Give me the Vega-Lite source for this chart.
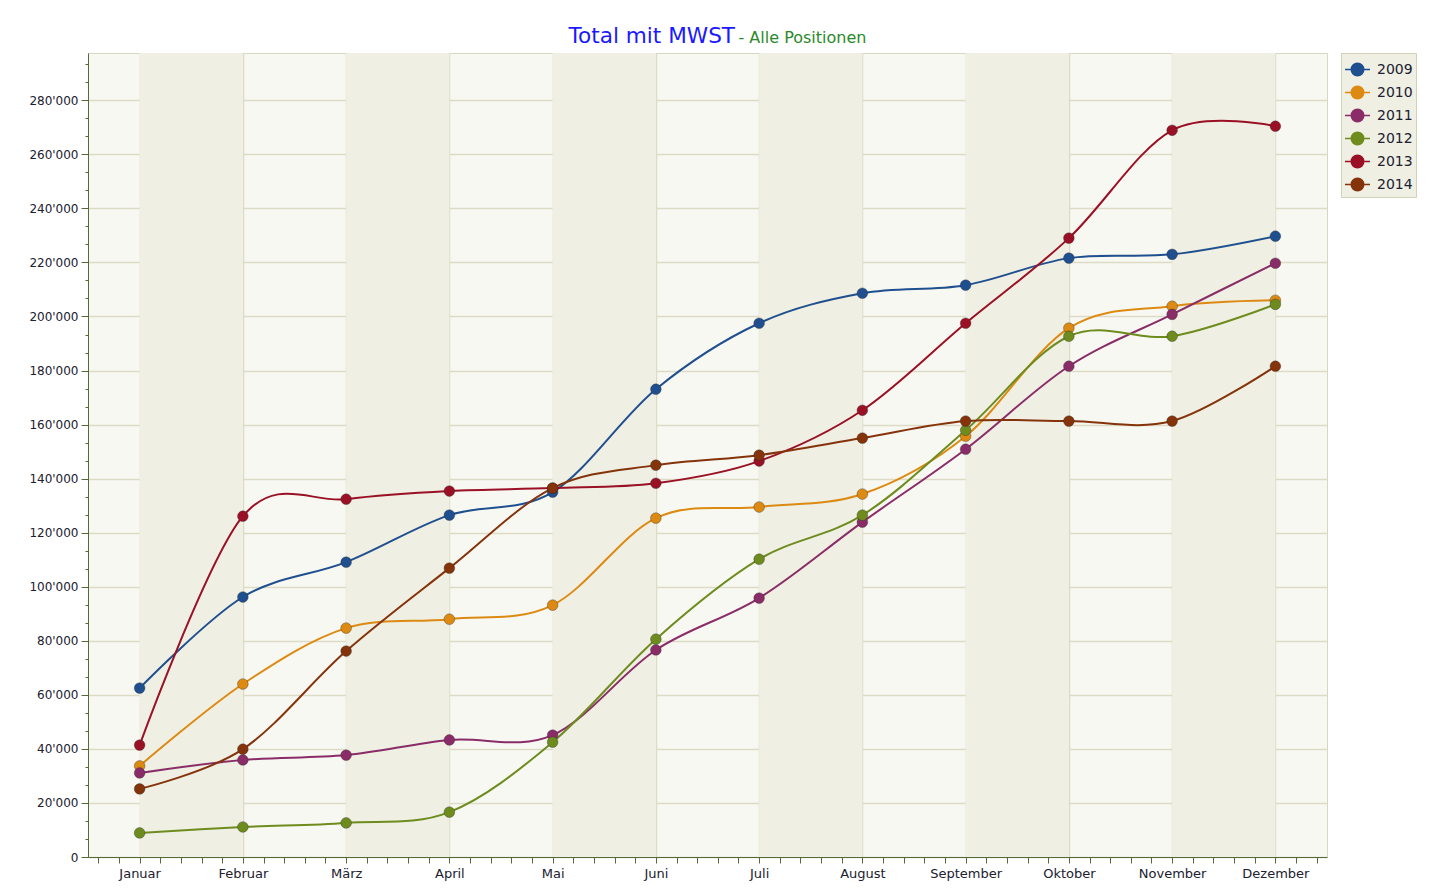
{
  "$schema": "https://vega.github.io/schema/vega-lite/v6.json",
  "autosize": "none",
  "width": 1239,
  "height": 804,
  "padding": {"left": 88, "top": 53, "right": 111, "bottom": 38},
  "background": "white",
  "config": {
    "view": {"fill": "#f8f8f2", "stroke": "#d8d8c2", "strokeWidth": 1},
    "axis": {
      "labelFont": "DejaVu Sans",
      "labelColor": "#202030",
      "domainColor": "#56693a",
      "tickColor": "#56693a",
      "gridColor": "#dcdcc6",
      "gridWidth": 1.5,
      "labelOverlap": false
    },
    "legend": {"labelFont": "DejaVu Sans"}
  },
  "datasets": {
    "baender": [
      {"von": 1, "bis": 2},
      {"von": 3, "bis": 4},
      {"von": 5, "bis": 6},
      {"von": 7, "bis": 8},
      {"von": 9, "bis": 10},
      {"von": 11, "bis": 12}
    ],
    "umsatz": [
      {"jahr": "2009", "monat": 1, "wert": 62500},
      {"jahr": "2009", "monat": 2, "wert": 96200},
      {"jahr": "2009", "monat": 3, "wert": 109100},
      {"jahr": "2009", "monat": 4, "wert": 126500},
      {"jahr": "2009", "monat": 5, "wert": 135000},
      {"jahr": "2009", "monat": 6, "wert": 173100},
      {"jahr": "2009", "monat": 7, "wert": 197500},
      {"jahr": "2009", "monat": 8, "wert": 208600},
      {"jahr": "2009", "monat": 9, "wert": 211600},
      {"jahr": "2009", "monat": 10, "wert": 221600},
      {"jahr": "2009", "monat": 11, "wert": 223000},
      {"jahr": "2009", "monat": 12, "wert": 229700},
      {"jahr": "2010", "monat": 1, "wert": 33700},
      {"jahr": "2010", "monat": 2, "wert": 64000},
      {"jahr": "2010", "monat": 3, "wert": 84700},
      {"jahr": "2010", "monat": 4, "wert": 88000},
      {"jahr": "2010", "monat": 5, "wert": 93200},
      {"jahr": "2010", "monat": 6, "wert": 125400},
      {"jahr": "2010", "monat": 7, "wert": 129500},
      {"jahr": "2010", "monat": 8, "wert": 134300},
      {"jahr": "2010", "monat": 9, "wert": 155700},
      {"jahr": "2010", "monat": 10, "wert": 195700},
      {"jahr": "2010", "monat": 11, "wert": 203800},
      {"jahr": "2010", "monat": 12, "wert": 206000},
      {"jahr": "2011", "monat": 1, "wert": 31100},
      {"jahr": "2011", "monat": 2, "wert": 35900},
      {"jahr": "2011", "monat": 3, "wert": 37700},
      {"jahr": "2011", "monat": 4, "wert": 43300},
      {"jahr": "2011", "monat": 5, "wert": 45100},
      {"jahr": "2011", "monat": 6, "wert": 76600},
      {"jahr": "2011", "monat": 7, "wert": 95800},
      {"jahr": "2011", "monat": 8, "wert": 123900},
      {"jahr": "2011", "monat": 9, "wert": 150900},
      {"jahr": "2011", "monat": 10, "wert": 181600},
      {"jahr": "2011", "monat": 11, "wert": 200800},
      {"jahr": "2011", "monat": 12, "wert": 219700},
      {"jahr": "2012", "monat": 1, "wert": 8900},
      {"jahr": "2012", "monat": 2, "wert": 11100},
      {"jahr": "2012", "monat": 3, "wert": 12600},
      {"jahr": "2012", "monat": 4, "wert": 16600},
      {"jahr": "2012", "monat": 5, "wert": 42500},
      {"jahr": "2012", "monat": 6, "wert": 80600},
      {"jahr": "2012", "monat": 7, "wert": 110200},
      {"jahr": "2012", "monat": 8, "wert": 126500},
      {"jahr": "2012", "monat": 9, "wert": 157900},
      {"jahr": "2012", "monat": 10, "wert": 192700},
      {"jahr": "2012", "monat": 11, "wert": 192700},
      {"jahr": "2012", "monat": 12, "wert": 204500},
      {"jahr": "2013", "monat": 1, "wert": 41400},
      {"jahr": "2013", "monat": 2, "wert": 126100},
      {"jahr": "2013", "monat": 3, "wert": 132400},
      {"jahr": "2013", "monat": 4, "wert": 135400},
      {"jahr": "2013", "monat": 5, "wert": 136500},
      {"jahr": "2013", "monat": 6, "wert": 138300},
      {"jahr": "2013", "monat": 7, "wert": 146500},
      {"jahr": "2013", "monat": 8, "wert": 165300},
      {"jahr": "2013", "monat": 9, "wert": 197500},
      {"jahr": "2013", "monat": 10, "wert": 229000},
      {"jahr": "2013", "monat": 11, "wert": 268900},
      {"jahr": "2013", "monat": 12, "wert": 270400},
      {"jahr": "2014", "monat": 1, "wert": 25200},
      {"jahr": "2014", "monat": 2, "wert": 39900},
      {"jahr": "2014", "monat": 3, "wert": 76200},
      {"jahr": "2014", "monat": 4, "wert": 106900},
      {"jahr": "2014", "monat": 5, "wert": 136500},
      {"jahr": "2014", "monat": 6, "wert": 145000},
      {"jahr": "2014", "monat": 7, "wert": 148700},
      {"jahr": "2014", "monat": 8, "wert": 155000},
      {"jahr": "2014", "monat": 9, "wert": 161300},
      {"jahr": "2014", "monat": 10, "wert": 161300},
      {"jahr": "2014", "monat": 11, "wert": 161300},
      {"jahr": "2014", "monat": 12, "wert": 181600}
    ]
  },
  "layer": [
    {
      "data": {"name": "baender"},
      "mark": {"type": "rect", "fill": "#efefe3"},
      "encoding": {
        "x": {
          "field": "von", "type": "quantitative", "title": "- Alle Positionen",
          "scale": {"domain": [0.5, 12.5], "nice": false, "zero": false},
          "axis": {
            "values": [0.6, 0.8, 1, 1.2, 1.4, 1.6, 1.8, 2, 2.2, 2.4, 2.6, 2.8, 3, 3.2, 3.4, 3.6, 3.8, 4, 4.2, 4.4, 4.6, 4.8, 5, 5.2, 5.4, 5.6, 5.8, 6, 6.2, 6.4, 6.6, 6.8, 7, 7.2, 7.4, 7.6, 7.8, 8, 8.2, 8.4, 8.6, 8.8, 9, 9.2, 9.4, 9.6, 9.8, 10, 10.2, 10.4, 10.6, 10.8, 11, 11.2, 11.4, 11.6, 11.8, 12, 12.2, 12.4],
            "tickCount": 200,
            "labelExpr": "datum.value % 1 == 0 ? ['Januar','Februar','März','April','Mai','Juni','Juli','August','September','Oktober','November','Dezember'][datum.value - 1] : ''",
            "labelFontSize": 13,
            "labelPadding": 4,
            "labelFlush": false,
            "labelOverlap": false,
            "tickSize": 6,
            "grid": true,
            "gridOpacity": {"condition": {"test": "datum.value % 1 != 0", "value": 0}, "value": 1},
            "titleFont": "DejaVu Sans",
            "titleFontSize": 16,
            "titleFontWeight": "normal",
            "titleColor": "#2a8a2a",
            "titleAngle": 0,
            "titleAlign": "left",
            "titleBaseline": "alphabetic",
            "titleAnchor": "start",
            "titleX": 650,
            "titleY": -815
          }
        },
        "x2": {"field": "bis"}
      }
    },
    {
      "data": {"name": "umsatz"},
      "mark": {"type": "line", "interpolate": "cardinal", "strokeWidth": 2},
      "encoding": {
        "x": {"field": "monat", "type": "quantitative", "title": "- Alle Positionen"},
        "y": {
          "field": "wert", "type": "quantitative", "title": "Total mit MWST",
          "scale": {"domain": [0, 297500], "nice": false},
          "axis": {
            "values": [0, 6667, 13333, 20000, 26667, 33333, 40000, 46667, 53333, 60000, 66667, 73333, 80000, 86667, 93333, 100000, 106667, 113333, 120000, 126667, 133333, 140000, 146667, 153333, 160000, 166667, 173333, 180000, 186667, 193333, 200000, 206667, 213333, 220000, 226667, 233333, 240000, 246667, 253333, 260000, 266667, 273333, 280000, 286667, 293333],
            "tickCount": 200,
            "labelExpr": "datum.value % 20000 == 0 ? replace(format(datum.value, ','), ',', \"'\") : ''",
            "labelFontSize": 12,
            "labelPadding": 3,
            "labelOverlap": false,
            "labelFlush": false,
            "tickSize": {"condition": {"test": "datum.value % 20000 != 0", "value": 3}, "value": 7},
            "grid": true,
            "gridOpacity": {"condition": {"test": "datum.value % 20000 != 0", "value": 0}, "value": 1},
            "titleFont": "DejaVu Sans",
            "titleFontSize": 21.6,
            "titleFontWeight": "normal",
            "titleColor": "#1a1aff",
            "titleAngle": 0,
            "titleAlign": "left",
            "titleBaseline": "alphabetic",
            "titleAnchor": "start",
            "titleX": 480,
            "titleY": -11
          }
        },
        "color": {
          "field": "jahr", "type": "nominal",
          "scale": {
            "domain": ["2009", "2010", "2011", "2012", "2013", "2014"],
            "range": ["#1f4f8f", "#dd8a12", "#8a2c68", "#6e8c1e", "#9a1024", "#85330a"]
          },
          "legend": {
            "title": null,
            "orient": "none",
            "legendX": 1253,
            "legendY": 0,
            "fillColor": "#efefe3",
            "strokeColor": "#d2d2b8",
            "padding": 3,
            "rowPadding": 0,
            "labelFontSize": 14,
            "labelColor": "#202030",
            "labelOffset": 6,
            "symbolType": "M-1,0H1M0,-0.5A0.5,0.5,0,1,1,0,0.5A0.5,0.5,0,1,1,0,-0.5",
            "symbolSize": 625,
            "symbolStrokeWidth": 1.5,
            "symbolOpacity": 1
          }
        }
      }
    },
    {
      "data": {"name": "umsatz"},
      "mark": {"type": "point", "filled": true, "size": 115, "opacity": 1, "stroke": "#2a2a2a", "strokeWidth": 0.8, "strokeOpacity": 0.45},
      "encoding": {
        "x": {"field": "monat", "type": "quantitative", "title": "- Alle Positionen"},
        "y": {"field": "wert", "type": "quantitative", "title": "Total mit MWST"},
        "color": {"field": "jahr", "type": "nominal"}
      }
    }
  ]
}
